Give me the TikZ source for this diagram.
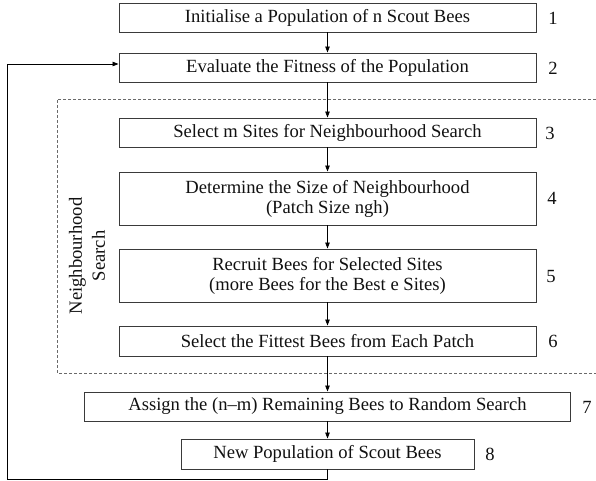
\documentclass[tikz,border=0pt]{standalone}
\usepackage{fontspec}
\setmainfont{Liberation Serif}
\usetikzlibrary{arrows.meta}
\definecolor{boxline}{HTML}{3A3A3A}
\definecolor{dashline}{HTML}{6A6A6A}
\definecolor{txt}{HTML}{111111}
\tikzset{
  stepbox/.style={draw=boxline, line width=0.9pt, minimum width=417pt, inner sep=0pt, anchor=center, text=txt, align=center, font=\fontsize{18.6}{20}\selectfont},
  numlab/.style={text=txt, inner sep=0pt, anchor=center, font=\fontsize{18.6}{20}\selectfont},
  flow/.style={draw=black, line width=0.8pt, -{Triangle[length=6pt,width=4.5pt]}},
}
\begin{document}
\begin{tikzpicture}[x=1pt,y=-1pt]
\useasboundingbox (0,0) rectangle (596,481);
% dashed neighbourhood search region
\draw[dashline, line width=0.8pt, dash pattern=on 3pt off 2pt] (596,99) -- (57,99) -- (57,373) -- (596,373);
\node[rotate=90, text=txt, align=center, inner sep=0pt, font=\fontsize{18.6}{23}\selectfont] (nslab) at (87,256) {Neighbourhood\\Search};

\node[stepbox, minimum height=29pt] (b1) at (327.5,17.5) {Initialise a Population of n Scout Bees};
\node[stepbox, minimum height=29pt] (b2) at (327.5,67.5) {Evaluate the Fitness of the Population};
\node[stepbox, minimum height=29pt] (b3) at (327.5,132.5) {Select m Sites for Neighbourhood Search};
\node[stepbox, minimum height=53pt] (b4) at (327.5,198.5) {Determine the Size of Neighbourhood\\(Patch Size ngh)};
\node[stepbox, minimum height=53pt] (b5) at (327.5,275.5) {Recruit Bees for Selected Sites\\(more Bees for the Best e Sites)};
\node[stepbox, minimum height=30pt] (b6) at (327.5,341) {Select the Fittest Bees from Each Patch};
\node[stepbox, minimum height=29pt, minimum width=486pt] (b7) at (327.5,406.5) {Assign the (n–m) Remaining Bees to Random Search};
\node[stepbox, minimum height=30pt, minimum width=293pt] (b8) at (327.5,454) {New Population of Scout Bees};

\node[numlab] (n1) at (553,18) {1};
\node[numlab] (n2) at (553,68) {2};
\node[numlab] (n3) at (550,133) {3};
\node[numlab] (n4) at (552,198) {4};
\node[numlab] (n5) at (551,276) {5};
\node[numlab] (n6) at (553,341) {6};
\node[numlab] (n7) at (587,407) {7};
\node[numlab] (n8) at (490,454) {8};

\draw[flow] (b1) -- (b2);
\draw[flow] (b2) -- (b3);
\draw[flow] (b3) -- (b4);
\draw[flow] (b4) -- (b5);
\draw[flow] (b5) -- (b6);
\draw[flow] (b6) -- (b7);
\draw[flow] (b7) -- (b8);

\coordinate (fbA) at (327.5,479);
\coordinate (fbB) at (7,479);
\coordinate (fbC) at (7,64);
\coordinate (fbD) at (b2.west |- fbC);
\draw[flow] (b8.south) -- (fbA) -- (fbB) -- (fbC) -- (fbD);
\end{tikzpicture}
\end{document}
